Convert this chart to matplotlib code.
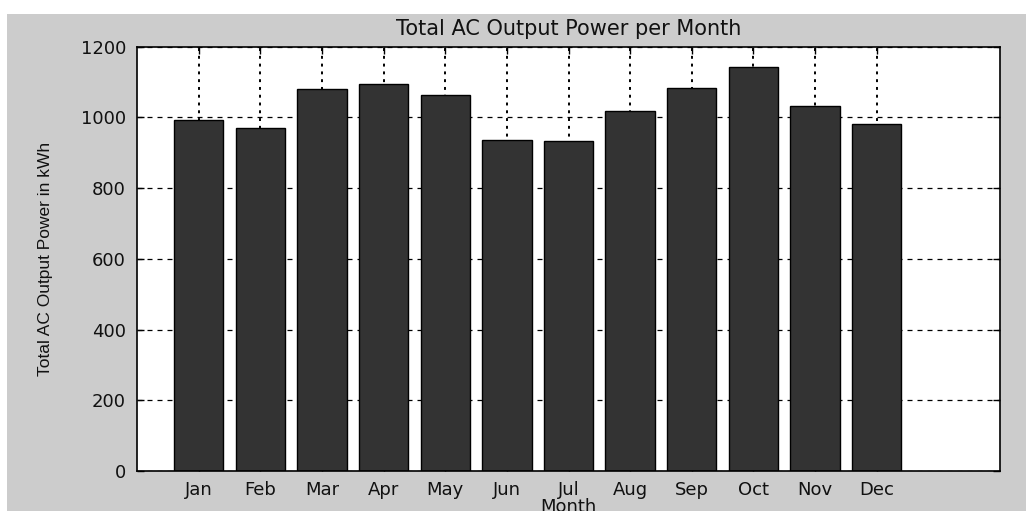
import matplotlib
matplotlib.use("Agg")
import matplotlib.pyplot as plt
from matplotlib.patches import Rectangle

months = ["Jan", "Feb", "Mar", "Apr", "May", "Jun", "Jul", "Aug", "Sep", "Oct", "Nov", "Dec"]
power_kwh = [993, 969, 1080, 1094, 1063, 937, 933, 1018, 1084, 1143, 1031, 982]
yticks = [0, 200, 400, 600, 800, 1000, 1200]

plt.rcParams['font.family'] = ['DejaVu Sans']

fig = plt.figure(figsize=(10.26, 5.11), dpi=100, facecolor="white")
fig.patches.append(Rectangle((7/1026, 0), 1 - 7/1026, 1 - 14/511, transform=fig.transFigure,
                             facecolor="#cccccc", edgecolor="none", zorder=-10))

ax = fig.add_axes([137/1026, 40/511, (1000-137)/1026, (471-46.7)/511])
ax.set_facecolor("white")
x = list(range(1, len(months) + 1))
ax.bar(x, power_kwh, width=0.8, color="#333333", edgecolor="black", linewidth=1.0, zorder=3)

ax.set_xlim(0, 14)
ax.set_ylim(0, 1200)
ax.set_xticks(x)
ax.set_xticklabels(months)
ax.set_yticks(yticks)
ax.set_axisbelow(True)
ax.xaxis.grid(True, linestyle=(0, (1.5, 2.5)), color="black", linewidth=1.4, zorder=0)
ax.yaxis.grid(True, linestyle=(0, (4, 4)), color="black", linewidth=0.9, zorder=0)
ax.tick_params(direction="in", length=5, width=1, top=True, right=True,
               labelsize=13, colors="black", labelcolor="#111111")
ax.tick_params(axis="y", pad=8)
ax.tick_params(axis="x", pad=7)
for s in ax.spines.values():
    s.set_linewidth(1.2)
    s.set_color("black")
    s.set_zorder(5)

ax.set_title("Total AC Output Power per Month", fontsize=15, color="#111111", pad=8.5)
ax.set_xlabel("Month", fontsize=13, color="#111111", va="top")
ax.xaxis.set_label_coords(0.5, -(498 - 471) / 424.3)
ax.set_ylabel("Total AC Output Power in kWh", fontsize=12.5, color="#111111",
              family=["Liberation Sans Narrow", "Liberation Sans", "DejaVu Sans"])
ax.yaxis.set_label_coords(-(137 - 53) / 863, 0.5)

fig.savefig("out.png", dpi=100, facecolor=fig.get_facecolor())
